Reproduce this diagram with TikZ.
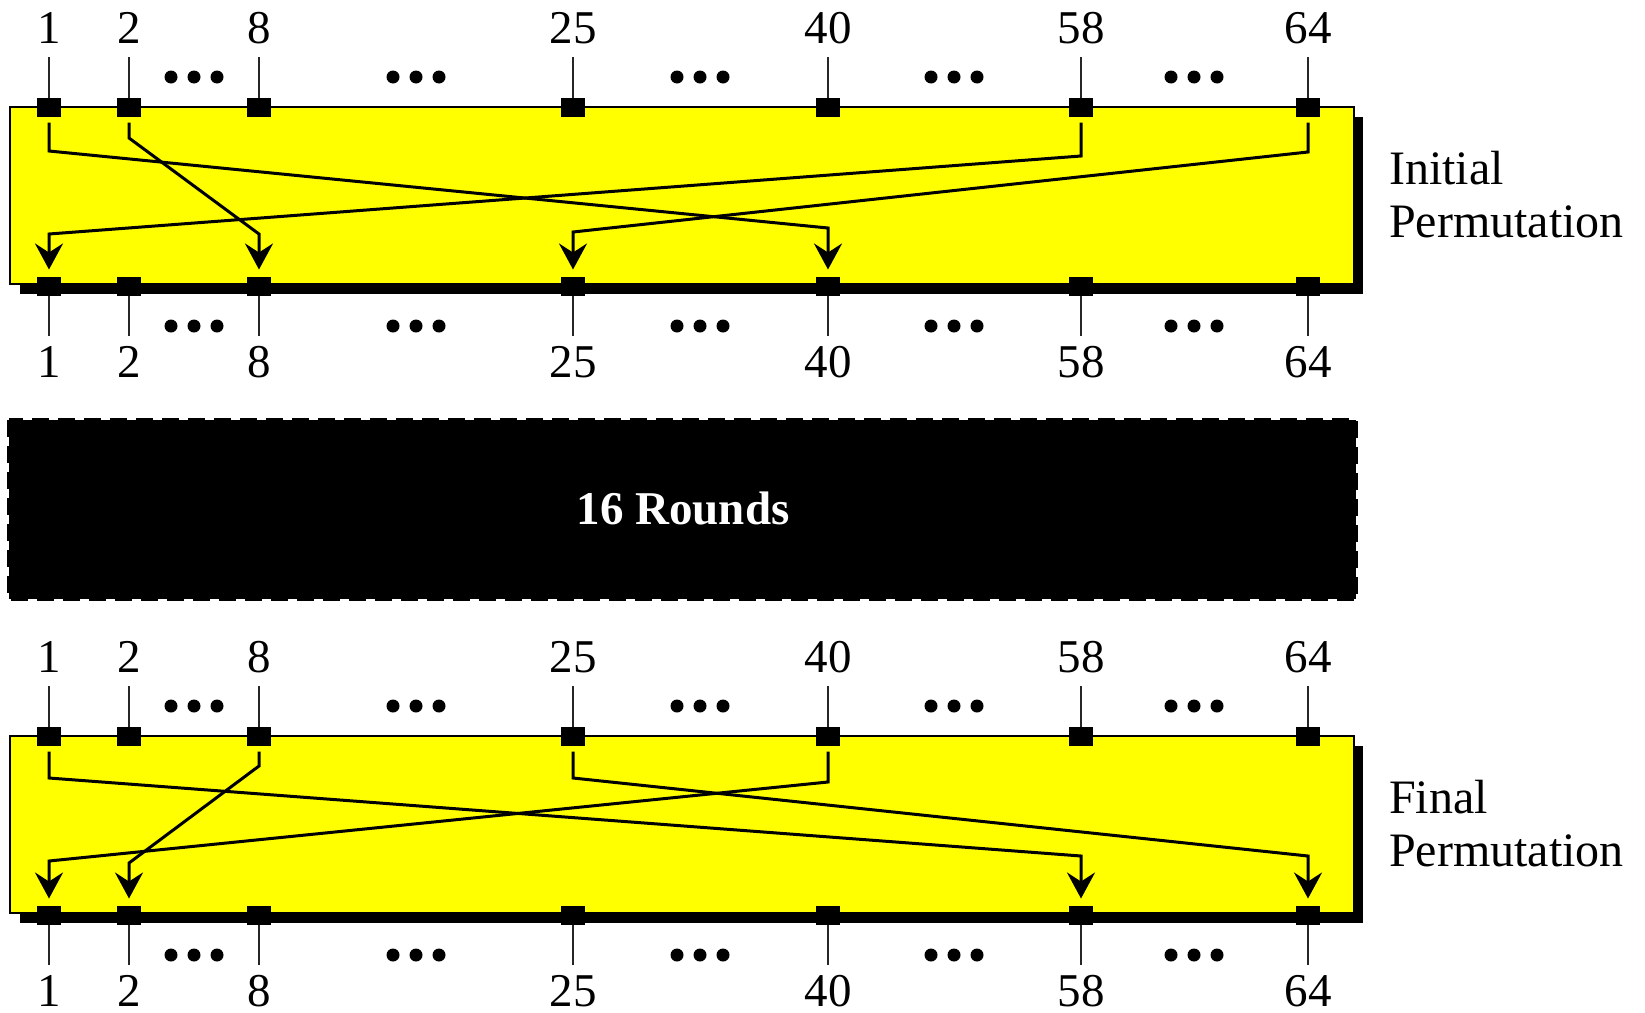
\documentclass[tikz,border=0pt]{standalone}
\usepackage{fontspec}
\setmainfont{Liberation Serif}
\usetikzlibrary{arrows.meta}
\definecolor{boxyellow}{RGB}{255,255,0}
\begin{document}
\begin{tikzpicture}[x=1pt,y=-1pt,
  pin/.style={fill=black, minimum width=24pt, minimum height=19pt, inner sep=0pt, outer sep=0pt},
  lead/.style={line width=1.6pt, draw=black!85},
  num/.style={font=\fontsize{47}{47}\selectfont, inner sep=0pt, anchor=base},
  wire/.style={line width=3pt, -{Stealth[length=26pt,width=28pt,inset=9pt]},
    shorten <=6pt, shorten >=7pt, line join=miter},
  box/.style={fill=boxyellow, draw=black, line width=2pt},
  caption/.style={font=\fontsize{48}{53}\selectfont, anchor=base west, inner sep=0pt}
]
\useasboundingbox (0,0) rectangle (1645,1012);

% one permutation stage: shadowed yellow box, pins, leads, labels, dots
\newcommand\permstage[3]{%
  \fill (20,117) rectangle (1363,294);
  \draw[box] (10,107) rectangle (1354,284);
  \foreach \n/\x in {1/49,2/129,8/259,25/573,40/828,58/1081,64/1308} {
    \node[num] (#1tl\n) at (\x,43) {\n};
    \node[num] (#1bl\n) at (\x,377) {\n};
    \node[pin] (#1t\n) at (\x,107) {};
    \node[pin] (#1b\n) at (\x,286) {};
    \draw[lead] (#1t\n |- 0,57) -- (#1t\n.north);
    \draw[lead] (#1b\n.south) -- (#1b\n |- 0,336);
  }
  \foreach \x in {194,416,700,954,1194} {
    \foreach \d in {-23,0,23} {
      \fill (\x+\d,77) circle (6.5pt);
      \fill (\x+\d,326) circle (6.5pt);
    }
  }
  \node[caption] (#1capa) at (1389,184) {#2};
  \node[caption] (#1capb) at (1389,237) {#3};
}

% initial permutation
\permstage{i}{Initial}{Permutation}
\draw[wire] (it1.south) -- (it1 |- 0,151) -- (ib40 |- 0,228) -- (ib40.north);
\draw[wire] (it2.south) -- (it2 |- 0,138) -- (ib8 |- 0,234) -- (ib8.north);
\draw[wire] (it58.south) -- (it58 |- 0,156) -- (ib1 |- 0,234) -- (ib1.north);
\draw[wire] (it64.south) -- (it64 |- 0,152) -- (ib25 |- 0,232) -- (ib25.north);

% the sixteen rounds
\fill (9,420) rectangle (1356,599);
\draw[line width=3pt, dash pattern=on 17pt off 9pt] (8.5,419.5) rectangle (1356.5,599.5);
\node[font=\fontsize{47}{47}\selectfont\bfseries, text=white, anchor=base, inner sep=0pt]
  (rounds) at (683,524) {16 Rounds};

% final permutation
\begin{scope}[shift={(0,629)}]
\permstage{f}{Final}{Permutation}
\draw[wire] (ft1.south) -- (ft1 |- 0,149) -- (fb58 |- 0,227) -- (fb58.north);
\draw[wire] (ft8.south) -- (ft8 |- 0,137) -- (fb2 |- 0,234) -- (fb2.north);
\draw[wire] (ft40.south) -- (ft40 |- 0,153) -- (fb1 |- 0,232) -- (fb1.north);
\draw[wire] (ft25.south) -- (ft25 |- 0,149) -- (fb64 |- 0,227) -- (fb64.north);
\end{scope}
\end{tikzpicture}
\end{document}
